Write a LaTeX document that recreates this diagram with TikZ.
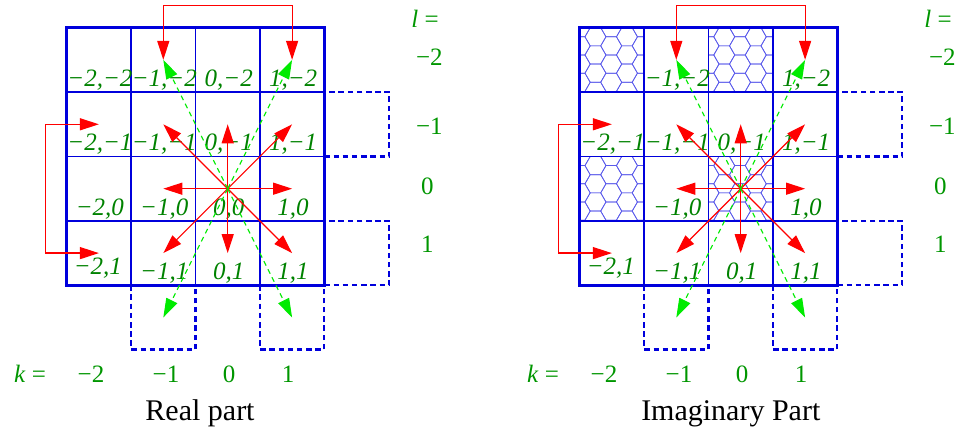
\documentclass[tikz,border=0pt]{standalone}
\usepackage{fontspec}
\setmainfont{Liberation Serif}
\usetikzlibrary{arrows.meta,calc}

\definecolor{lblgreen}{RGB}{0,130,0}
\definecolor{axisgreen}{RGB}{0,150,0}
\definecolor{gridblue}{RGB}{0,0,220}
\definecolor{hexblue}{RGB}{90,90,235}
\definecolor{knight}{RGB}{0,235,0}

\tikzset{
  frame/.style={gridblue, line width=2.6pt},
  gridline/.style={gridblue, line width=1.3pt},
  ghost/.style={gridblue, line width=2.3pt, dash pattern=on 5.5pt off 3.7pt},
  honey/.style={hexblue, line width=0.7pt},
  move/.style={red, line width=1.2pt, -{Triangle[length=19pt,width=12pt]}},
  wrap/.style={red, line width=1.2pt,
    {Triangle[length=19pt,width=12pt]}-{Triangle[length=19pt,width=12pt]}},
  jump/.style={knight, line width=1.1pt, dash pattern=on 5pt off 4pt,
    -{Triangle[length=19pt,width=12pt]}},
  cell/.style={lblgreen, font=\fontsize{25}{25}\selectfont\itshape,
    anchor=base, inner sep=0pt},
  axis/.style={axisgreen, font=\fontsize{25}{25}\selectfont,
    anchor=base, inner sep=0pt},
  caption/.style={black, font=\fontsize{30}{30}\selectfont,
    anchor=base, inner sep=0pt},
}

% cell centres, grid, periodic images and frame of one 4x4 lattice
\newcommand\latticebase{%
  \foreach \i in {0,...,3}{\foreach \j in {0,...,4}{
    \coordinate (c\i\j) at ({66.7+(\i+0.5)*64.4},{27.7+(\j+0.5)*64.4});}}
  \coordinate (topbar) at (228,5.7);
  \coordinate (sidebar) at (45.7,188);
  \foreach \a in {1,2,3}{
    \draw[gridline] ({66.7+\a*64.4},27.7) -- ({66.7+\a*64.4},285.3);
    \draw[gridline] (66.7,{27.7+\a*64.4}) -- (324.3,{27.7+\a*64.4});}
  \draw[ghost] (324.3,92.1) rectangle (389.3,156.5);
  \draw[ghost] (324.3,220.9) rectangle (389.3,285.3);
  \draw[ghost] (131.1,285.3) rectangle (195.5,349.5);
  \draw[ghost] (259.9,285.3) rectangle (324.3,349.5);
  \draw[frame] (66.7,27.7) rectangle (324.3,285.3);
}

% neighbour moves, knight jumps and the periodic wrap-arounds
\newcommand\latticemoves{%
  \foreach \t in {c11,c21,c31,c12,c32,c13,c23,c33}{\draw[move] (c22) -- (\t);}
  \foreach \t in {c10,c30,c14,c34}{\draw[jump] (c22) -- (\t);}
  \draw[wrap] (c10) |- (topbar) -| (c30);
  \draw[wrap] (c01) -| (sidebar) |- (c03);
}

% honeycomb filling of the cell in column #1, row #2
\newcommand\honeycomb[2]{%
  \begin{scope}
    \clip ({66.7+#1*64.4},{27.7+#2*64.4}) rectangle ++(64.4,64.4);
    \foreach \q in {0,...,5}{\foreach \r in {-1,...,4}{
      \pgfmathsetmacro\hx{66.7+#1*64.4+\q*15.75}
      \pgfmathsetmacro\hy{27.7+#2*64.4+\r*18.19+mod(\q,2)*9.09}
      \draw[honey] (\hx,\hy) +(0:10.5) -- +(60:10.5) -- +(120:10.5)
        -- +(180:10.5) -- +(240:10.5) -- +(300:10.5) -- cycle;}}
  \end{scope}
}

% axis labels k and l of one panel
\newcommand\axislabels{%
  \node[axis] (keq) at (30,382.7) {\textit{k} =};
  \node[axis] (k0) at (91,382.7) {−2};
  \node[axis] (k1) at (166,382.7) {−1};
  \node[axis] (k2) at (229,382.7) {0};
  \node[axis] (k3) at (288,382.7) {1};
  \node[axis] (leq) at (425,28) {\textit{l} =};
  \node[axis] (l0) at (429.3,65.7) {−2};
  \node[axis] (l1) at (429.3,135) {−1};
  \node[axis] (l2) at (427.3,194.3) {0};
  \node[axis] (l3) at (427.3,252.3) {1};
}

\newcommand\celllabel[3]{%
  \node[cell] (t#1#2) at ($(c#1#2)+(1,26.5)$) {#3};}

\begin{document}
\begin{tikzpicture}[x=1pt,y=-1pt]
  \useasboundingbox (0,0) rectangle (958,427);

  % real part
  \begin{scope}[name prefix=re-]
    \latticebase
    \celllabel{0}{0}{−2,−2}
    \celllabel{1}{0}{−1,−2}
    \celllabel{2}{0}{0,−2}
    \celllabel{3}{0}{1,−2}
    \celllabel{0}{1}{−2,−1}
    \celllabel{1}{1}{−1,−1}
    \celllabel{2}{1}{0,−1}
    \celllabel{3}{1}{1,−1}
    \celllabel{0}{2}{−2,0}
    \celllabel{1}{2}{−1,0}
    \celllabel{2}{2}{0,0}
    \celllabel{3}{2}{1,0}
    \node[cell] (t03) at ($(c03)+(-1,21)$) {−2,1};
    \celllabel{1}{3}{−1,1}
    \celllabel{2}{3}{0,1}
    \celllabel{3}{3}{1,1}
    \latticemoves
    \axislabels
  \end{scope}
  \node[caption] (recap) at (200,420) {Real part};

  % imaginary part
  \begin{scope}[shift={(513,0)}, name prefix=im-]
    \honeycomb{0}{0}
    \honeycomb{2}{0}
    \honeycomb{0}{2}
    \honeycomb{2}{2}
    \latticebase
    \celllabel{1}{0}{−1,−2}
    \celllabel{3}{0}{1,−2}
    \celllabel{0}{1}{−2,−1}
    \celllabel{1}{1}{−1,−1}
    \celllabel{2}{1}{0,−1}
    \celllabel{3}{1}{1,−1}
    \celllabel{1}{2}{−1,0}
    \celllabel{3}{2}{1,0}
    \node[cell] (t03) at ($(c03)+(-1,21)$) {−2,1};
    \celllabel{1}{3}{−1,1}
    \celllabel{2}{3}{0,1}
    \celllabel{3}{3}{1,1}
    \latticemoves
    \axislabels
  \end{scope}
  \node[caption] (imcap) at (730.8,420) {Imaginary Part};
\end{tikzpicture}
\end{document}
